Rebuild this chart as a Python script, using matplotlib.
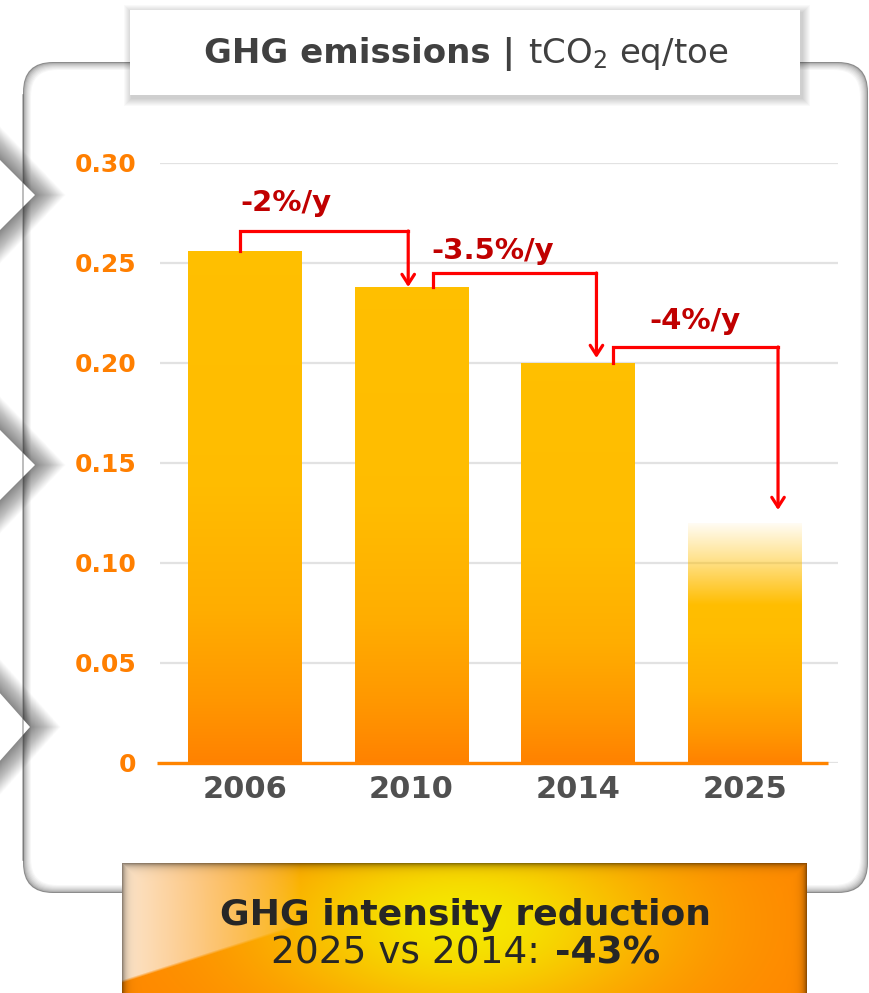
import numpy as np
import matplotlib.pyplot as plt
from matplotlib.patches import FancyBboxPatch, Polygon, Rectangle
from matplotlib.offsetbox import TextArea, HPacker, AnnotationBbox

# data
years = ['2006', '2010', '2014', '2025']
ghg = [0.256, 0.238, 0.200, 0.120]
y_ticks = [0, 0.05, 0.10, 0.15, 0.20, 0.25, 0.30]
y_labels = ['0', '0.05', '0.10', '0.15', '0.20', '0.25', '0.30']

# yearly reduction brackets (from one bar to the next)
rates = ['-2%/y', '-3.5%/y', '-4%/y']
bracket_x0 = [-0.03, 1.13, 2.21]
bracket_x1 = [0.98, 2.11, 3.20]
bracket_top = [0.266, 0.245, 0.208]
arrow_tip = [0.238, 0.2025, 0.1265]
rate_x = [-0.03, 1.12, 2.43]
rate_y = [0.280, 0.256, 0.221]

fig = plt.figure(figsize=(8.69, 9.93), dpi=100)

# background layer in pixel units
bg = fig.add_axes([0, 0, 1, 1])
bg.axis('off')

# rounded panel with soft inner edge
for i in range(9):
    c = 0.55 + 0.45 * (i / 8) ** 0.55
    bg.add_patch(FancyBboxPatch((23 + i, 62 + i), 845 - 2 * i, 831 - 2 * i,
                                boxstyle='round,pad=0,rounding_size=%.1f' % (30 - 0.5 * i),
                                fc=(c, c, c), lw=0))

# chevrons on the left
for ty, tx in [(195, 35), (465, 35), (727, 30)]:
    for k in range(34, 0, -1):
        bg.add_patch(Polygon([(-10, ty - 45 - k), (tx + 0.9 * k, ty), (-10, ty + 45 + k)],
                             closed=True, fc='black', alpha=0.014, lw=0))
    bg.add_patch(Polygon([(-10, ty - 45), (tx, ty), (-10, ty + 45)], closed=True, fc='white', lw=0))
bg.plot([23, 23], [95, 860], color='#666666', lw=1.2, alpha=0.5)

# title box
for k in range(8, 0, -1):
    bg.add_patch(Rectangle((130 - k + 2, 10 - k + 3), 670 + 2 * k, 85 + 2 * k, fc='black', alpha=0.022, lw=0))
bg.add_patch(Rectangle((130, 10), 670, 85, fc='white', lw=0))

title = HPacker(children=[
    TextArea('GHG emissions |', textprops=dict(fontsize=24.5, weight='bold', color='#404040')),
    TextArea('tCO$_2$ eq/toe', textprops=dict(fontsize=24.5, color='#404040'))],
    align='baseline', pad=0, sep=9)
bg.add_artist(AnnotationBbox(title, (466, 54), xycoords='data', frameon=False,
                             box_alignment=(0.5, 0.5), zorder=4))

# bottom summary box with glossy gradient
W, H = 685, 130
xx, yy = np.meshgrid(np.arange(W) + 0.5, np.arange(H) + 0.5)
u = xx / W
v = yy / H
orange = np.array([1.0, 0.52, 0.0])
yellow = np.array([0.96, 0.91, 0.0])
peach = np.array([0.99, 0.90, 0.80])
w_y = np.exp(-((u - 0.5) / 0.3) ** 2) * np.exp(-((v - 0.45) / 0.8) ** 2)
img = orange + (yellow - orange) * w_y[..., None]
wedge = np.clip((120 - 0.32 * xx - yy) / 3, 0, 1)
w_p = np.clip(1 - u / 0.26, 0, 1) ** 0.8 * wedge
img = img + (peach - img) * w_p[..., None]
d = np.minimum(np.minimum(xx, W - xx), yy)
img = img * (1 - 0.5 * np.exp(-d / 3.5))[..., None]
bg.imshow(np.clip(img, 0, 1), extent=(122, 807, 993, 863), aspect='auto',
          interpolation='bilinear', zorder=3)

bg.text(466, 925, 'GHG intensity reduction', ha='center', va='baseline',
        fontsize=26, weight='bold', color='#262626', zorder=4)
line2 = HPacker(children=[
    TextArea('2025 vs 2014:', textprops=dict(fontsize=27, color='#262626')),
    TextArea('-43%', textprops=dict(fontsize=27, weight='bold', color='#262626'))],
    align='baseline', pad=0, sep=11)
bg.add_artist(AnnotationBbox(line2, (466, 953), xycoords='data', frameon=False,
                             box_alignment=(0.5, 0.5), zorder=4))

bg.set_xlim(0, 869)
bg.set_ylim(993, 0)

# chart
ax = fig.add_axes([160 / 869, 1 - 763 / 993, 678 / 869, 600 / 993])
ax.set_facecolor('none')
x = np.arange(len(years))
bars = ax.bar(x, ghg, width=0.68, color='none', zorder=2)

t = np.linspace(0, 1, 256)
grad = np.zeros((256, 1, 4))
grad[:, 0, 0] = 1.0
grad[:, 0, 1] = np.interp(t, [0, 0.12, 0.3, 0.55, 1], [0.51, 0.59, 0.68, 0.74, 0.75])
grad[:, 0, 3] = 1.0
for i, bar in enumerate(bars):
    g = grad.copy()
    if i == len(bars) - 1:
        g[:, 0, 3] = np.interp(t, [0, 0.66, 0.85, 1], [1, 1, 0.45, 0.05])
    x0 = bar.get_x()
    im = ax.imshow(g, origin='lower', extent=(x0, x0 + bar.get_width(), 0, bar.get_height()),
                   aspect='auto', zorder=2, interpolation='bilinear')
    im.set_clip_path(bar)

ax.plot([-0.53, 3.5], [0, 0], color='#ff8400', lw=2.4, solid_capstyle='butt', clip_on=False, zorder=3)

for i in range(len(rates)):
    ax.plot([bracket_x0[i], bracket_x0[i], bracket_x1[i]], [ghg[i], bracket_top[i], bracket_top[i]],
            color='#ff0000', lw=2.3, solid_joinstyle='miter', solid_capstyle='projecting', zorder=4)
    ax.annotate('', xy=(bracket_x1[i], arrow_tip[i]), xytext=(bracket_x1[i], bracket_top[i]),
                arrowprops=dict(arrowstyle='->,head_length=0.7,head_width=0.45', color='#ff0000',
                                lw=2.3, shrinkA=0, shrinkB=0), zorder=4)
    ax.text(rate_x[i], rate_y[i], rates[i], ha='left', va='center', color='#c00000',
            fontsize=21, weight='bold', zorder=5)

ax.set_xticks(x)
ax.set_xticklabels(years, fontsize=22, weight='bold', color='#505050')
ax.set_yticks(y_ticks)
ax.set_yticklabels(y_labels, fontsize=18, weight='bold', color='#ff7f00')
ax.tick_params(length=0)
ax.tick_params(axis='y', pad=17)
ax.tick_params(axis='x', pad=9)
ax.yaxis.grid(True, color='#e2e2e2', lw=1.6)
ax.set_axisbelow(True)
for s in ax.spines.values():
    s.set_visible(False)
ax.set_xlim(-0.51, 3.56)
ax.set_ylim(0, 0.30)

plt.savefig('out.png', dpi=100)
